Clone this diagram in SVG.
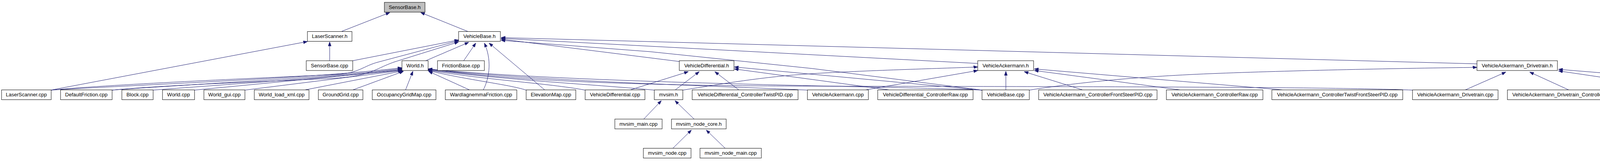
<svg xmlns="http://www.w3.org/2000/svg" width="4985" height="411" viewBox="0 0 4985 411">
<style>
.n rect{fill:#fff;stroke:#000;stroke-width:1}
.n text{font-family:"Liberation Sans",Arial,Helvetica,sans-serif;font-size:13px;fill:#000;text-anchor:middle}
#n_sensorbase_h rect{fill:#bfbfbf}
.e path{fill:none;stroke:#191970;stroke-width:1;marker-end:url(#ah)}
</style>
<defs>
<marker id="ah" viewBox="0 0 11 8" refX="10.5" refY="4" markerWidth="11" markerHeight="8" orient="auto" markerUnits="userSpaceOnUse">
<path d="M0,0 L11,4 L0,8 z" fill="#191970" stroke="#191970" stroke-width="0.5"/>
</marker>
</defs>
<rect width="4985" height="411" fill="#fff"/>
<g id="edges" class="e">
<path d="M875,80 L998,32"/>
<path d="M1197,80 L1077,32"/>
<path d="M844,155 L844,107"/>
<path d="M130,230 L787,106"/>
<path d="M903,155 L1174,102"/>
<path d="M130,230 C 300,214 700,198 860,190 C 920,187 930,168 970,158 L1174,104"/>
<path d="M287,230 C 450,215 700,208 850,200 C 950,195 960,175 1010,158 L1174,107"/>
<path d="M1090,155 L1200,108"/>
<path d="M1187,155 L1218,110"/>
<path d="M1237,230 C 1255,195 1258,150 1240,110"/>
<path d="M1395,230 L1252,110"/>
<path d="M1739,157 L1283,100"/>
<path d="M2503,162 L1283,98"/>
<path d="M3781,163 L1283,96"/>
<path d="M2514,230 L2080,175 L1665,132 L1283,103"/>
<path d="M130,230 C 400,214 800,200 1029,173"/>
<path d="M287,230 C 500,214 850,198 1029,175"/>
<path d="M392,230 C 600,214 900,194 1029,177"/>
<path d="M498,230 L1029,179"/>
<path d="M627,230 L1029,180"/>
<path d="M778,230 L1031,181"/>
<path d="M902,230 L1033,182"/>
<path d="M1038,230 L1057,182"/>
<path d="M1203,230 L1097,182"/>
<path d="M1347,230 C 1300,215 1200,205 1096,180"/>
<path d="M1498,230 C 1400,212 1250,205 1096,179"/>
<path d="M1675,230 C 1500,214 1300,205 1096,178"/>
<path d="M2067,230 C 1800,218 1400,208 1096,177"/>
<path d="M2514,230 C 2300,220 1500,215 1096,176"/>
<path d="M3616,230 C 3400,221 2600,221 2100,220 C 1600,219 1300,205 1096,176"/>
<path d="M1612,230 L1762,183"/>
<path d="M1728,230 L1790,183"/>
<path d="M1892,230 L1830,183"/>
<path d="M2280,230 L1880,176"/>
<path d="M2514,230 L1880,171"/>
<path d="M1648,304 L1693,257"/>
<path d="M1777,304 L1728,257"/>
<path d="M1722,379 L1770,332"/>
<path d="M1857,379 L1808,332"/>
<path d="M2213,230 L2503,180"/>
<path d="M1748,230 C 1850,214 1950,196 2080,188 S 2400,175 2503,171"/>
<path d="M2575,230 L2575,182"/>
<path d="M2773,230 L2622,183"/>
<path d="M3025,230 L2648,180"/>
<path d="M3290,230 L2648,176"/>
<path d="M2635,230 C 2750,212 2900,196 3100,188 S 3600,174 3781,172"/>
<path d="M3750,230 L3855,184"/>
<path d="M4017,230 L3916,184"/>
<path d="M4323,230 L3990,181"/>
<path d="M4640,230 L3990,177"/>
</g>
<g id="n_sensorbase_h" class="n"><rect x="984" y="6" width="104" height="25"/><text x="1036" y="22.5">SensorBase.h</text></g>
<g id="n_laserscanner_h" class="n"><rect x="787" y="80.5" width="114" height="25"/><text x="844" y="97">LaserScanner.h</text></g>
<g id="n_vehiclebase_h" class="n"><rect x="1174" y="80.5" width="107" height="25"/><text x="1227.5" y="97">VehicleBase.h</text></g>
<g id="n_sensorbase_cpp" class="n"><rect x="784" y="155" width="119" height="25"/><text x="843.5" y="171.5">SensorBase.cpp</text></g>
<g id="n_world_h" class="n"><rect x="1029" y="155" width="67" height="25"/><text x="1062.5" y="171.5">World.h</text></g>
<g id="n_frictionbase_cpp" class="n"><rect x="1120" y="155" width="120" height="25"/><text x="1180" y="171.5">FrictionBase.cpp</text></g>
<g id="n_vehicledifferential_h" class="n"><rect x="1739" y="155" width="140" height="25"/><text x="1809" y="171.5">VehicleDifferential.h</text></g>
<g id="n_vehicleackermann_h" class="n"><rect x="2503" y="155" width="143" height="25"/><text x="2574.5" y="171.5">VehicleAckermann.h</text></g>
<g id="n_vehicleackermann_drivetrain_h" class="n"><rect x="3781" y="155" width="206" height="25"/><text x="3884" y="171.5">VehicleAckermann_Drivetrain.h</text></g>
<g id="n_laserscanner_cpp" class="n"><rect x="4" y="229.5" width="127" height="25"/><text x="67.5" y="246">LaserScanner.cpp</text></g>
<g id="n_defaultfriction_cpp" class="n"><rect x="155" y="229.5" width="132" height="25"/><text x="221" y="246">DefaultFriction.cpp</text></g>
<g id="n_block_cpp" class="n"><rect x="312" y="229.5" width="80" height="25"/><text x="352" y="246">Block.cpp</text></g>
<g id="n_world_cpp" class="n"><rect x="416" y="229.5" width="82" height="25"/><text x="457" y="246">World.cpp</text></g>
<g id="n_world_gui_cpp" class="n"><rect x="522" y="229.5" width="105" height="25"/><text x="574.5" y="246">World_gui.cpp</text></g>
<g id="n_world_load_xml_cpp" class="n"><rect x="651" y="229.5" width="140" height="25"/><text x="721" y="246">World_load_xml.cpp</text></g>
<g id="n_groundgrid_cpp" class="n"><rect x="815" y="229.5" width="114" height="25"/><text x="872" y="246">GroundGrid.cpp</text></g>
<g id="n_occupancygridmap_cpp" class="n"><rect x="953" y="229.5" width="163" height="25"/><text x="1034.5" y="246">OccupancyGridMap.cpp</text></g>
<g id="n_wardiagnemmafriction_cpp" class="n"><rect x="1140" y="229.5" width="183" height="25"/><text x="1231.5" y="246">WardIagnemmaFriction.cpp</text></g>
<g id="n_elevationmap_cpp" class="n"><rect x="1347" y="229.5" width="127" height="25"/><text x="1410.5" y="246">ElevationMap.cpp</text></g>
<g id="n_vehicledifferential_cpp" class="n"><rect x="1498" y="229.5" width="153" height="25"/><text x="1574.5" y="246">VehicleDifferential.cpp</text></g>
<g id="n_mvsim_h" class="n"><rect x="1675" y="229.5" width="73" height="25"/><text x="1711.5" y="246">mvsim.h</text></g>
<g id="n_vd_twistpid_cpp" class="n"><rect x="1772" y="229.5" width="271" height="25"/><text x="1907.5" y="246">VehicleDifferential_ControllerTwistPID.cpp</text></g>
<g id="n_vehicleackermann_cpp" class="n"><rect x="2067" y="229.5" width="156" height="25"/><text x="2145" y="246">VehicleAckermann.cpp</text></g>
<g id="n_vd_raw_cpp" class="n"><rect x="2247" y="229.5" width="244" height="25"/><text x="2369" y="246">VehicleDifferential_ControllerRaw.cpp</text></g>
<g id="n_vehiclebase_cpp" class="n"><rect x="2514" y="229.5" width="121" height="25"/><text x="2574.5" y="246">VehicleBase.cpp</text></g>
<g id="n_va_frontsteerpid_cpp" class="n"><rect x="2659" y="229.5" width="303" height="25"/><text x="2810.5" y="246">VehicleAckermann_ControllerFrontSteerPID.cpp</text></g>
<g id="n_va_raw_cpp" class="n"><rect x="2986" y="229.5" width="247" height="25"/><text x="3109.5" y="246">VehicleAckermann_ControllerRaw.cpp</text></g>
<g id="n_va_twistfrontsteerpid_cpp" class="n"><rect x="3256" y="229.5" width="335" height="25"/><text x="3423.5" y="246">VehicleAckermann_ControllerTwistFrontSteerPID.cpp</text></g>
<g id="n_va_drivetrain_cpp" class="n"><rect x="3616" y="229.5" width="219" height="25"/><text x="3725.5" y="246">VehicleAckermann_Drivetrain.cpp</text></g>
<g id="n_vadt_frontsteerpid_cpp" class="n"><rect x="3859" y="229.5" width="367" height="25"/><text x="4042.5" y="246">VehicleAckermann_Drivetrain_ControllerFrontSteerPID.cpp</text></g>
<g id="n_vadt_raw_cpp" class="n"><rect x="4250" y="229.5" width="310" height="25"/><text x="4405" y="246">VehicleAckermann_Drivetrain_ControllerRaw.cpp</text></g>
<g id="n_vadt_twistfrontsteerpid_cpp" class="n"><rect x="4584" y="229.5" width="397" height="25"/><text x="4782.5" y="246">Vehicleackermann_Drivetrain_ControllerTwistFrontSteerPID.cpp</text></g>
<g id="n_mvsim_main_cpp" class="n"><rect x="1574" y="304" width="121" height="25"/><text x="1634.5" y="320.5">mvsim_main.cpp</text></g>
<g id="n_mvsim_node_core_h" class="n"><rect x="1719" y="304" width="140" height="25"/><text x="1789" y="320.5">mvsim_node_core.h</text></g>
<g id="n_mvsim_node_cpp" class="n"><rect x="1647" y="378.5" width="122" height="25"/><text x="1708" y="395">mvsim_node.cpp</text></g>
<g id="n_mvsim_node_main_cpp" class="n"><rect x="1792" y="378.5" width="157" height="25"/><text x="1870.5" y="395">mvsim_node_main.cpp</text></g>
</svg>
